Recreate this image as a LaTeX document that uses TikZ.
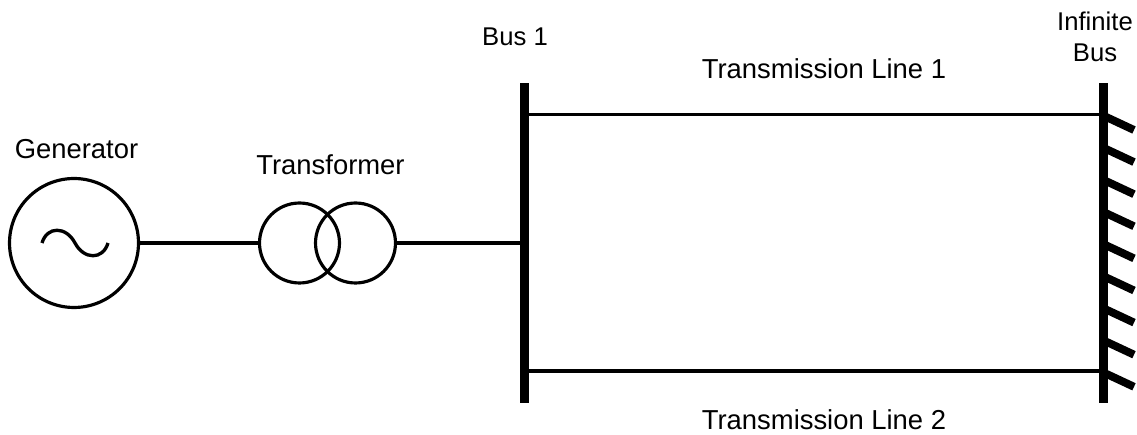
\documentclass[tikz,border=0pt]{standalone}
\usepackage{fontspec}
\setmainfont{Liberation Sans}
\tikzset{
  machine/.style={draw,circle,line width=1.8pt,inner sep=0pt},
  busbar/.style={fill=black,inner sep=0pt,minimum width=.18cm,minimum height=6.4cm},
  wire/.style={line width=1.9pt},
  hatch/.style={line width=4.5pt},
  lbl/.style={inner sep=0pt,font=\fontsize{15.6pt}{19pt}\selectfont,align=center},
  buslbl/.style={inner sep=0pt,font=\fontsize{14.6pt}{18pt}\selectfont,align=center}
}
\begin{document}
\begin{tikzpicture}[x=.02cm,y=-.02cm]
\useasboundingbox (0,0) rectangle (1137,435);
\node[machine,minimum size=2.58cm] (gen) at (74,243) {};
\node[machine,minimum size=1.6cm] (tra) at (299.5,243) {};
\node[machine,minimum size=1.6cm] (trb) at (355.5,243) {};
\node[busbar] (bus) at (524.5,243) {};
\node[busbar] (inf) at (1103,243) {};
\coordinate (busa) at (bus.north |- 0,114.5);
\coordinate (busb) at (bus.north |- 0,371);
\coordinate (infa) at (inf.north |- 0,114.5);
\coordinate (infb) at (inf.north |- 0,371);
\draw[wire] (gen) -- (tra);
\draw[wire] (trb) -- (bus);
\draw[wire] (busa) -- (infa);
\draw[wire] (busb) -- (infb);
\draw[wire] (42,243) .. controls (47,226) and (66,226) .. (75,243) .. controls (84,260) and (103,260) .. (108,243);
% hatching on the right side
\foreach \y in {0,...,8}
  \draw[hatch] (1103,115.5+32.1*\y) -- ++(31,14.5);
\node[lbl] (lgen) at (76.5,149) {Generator};
\node[lbl] (ltr) at (330.5,165) {Transformer};
\node[buslbl] (lbus) at (515,37) {Bus 1};
\node[lbl] (lone) at (824,69) {Transmission Line 1};
\node[lbl] (ltwo) at (824,420) {Transmission Line 2};
\node[buslbl] (linf) at (1095,37) {Infinite\\Bus};
\end{tikzpicture}
\end{document}
